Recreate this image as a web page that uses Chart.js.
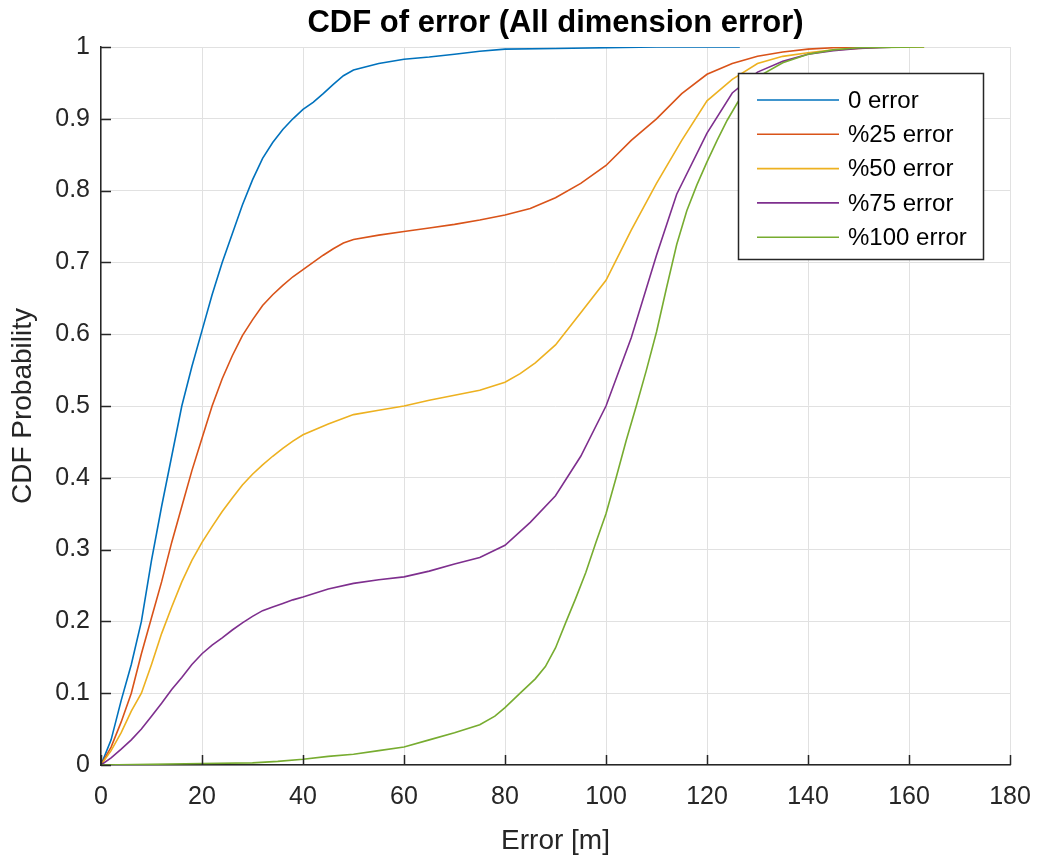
<!DOCTYPE html>
<html>
<head>
<meta charset="utf-8">
<script src="https://cdn.jsdelivr.net/npm/chart.js@4.4.1/dist/chart.umd.min.js"></script>
<style>
  html, body { margin: 0; padding: 0; background: #ffffff; }
  canvas { display: block; }
</style>
</head>
<body>
<canvas id="c" width="1039" height="858"></canvas>
<script>
// ---- Data ----
const seriesNames = ['0 error', '%25 error', '%50 error', '%75 error', '%100 error'];

const x0   = [0, 2, 4, 6, 8, 10, 12, 14, 16, 18, 20, 22, 24, 26, 28, 30, 32, 34, 36, 38, 40, 42, 44, 46, 48, 50, 55, 60, 65, 70, 75, 80, 90, 100, 110, 126.5];
const cdf0 = [0, 0.035, 0.09, 0.14, 0.2, 0.285, 0.36, 0.43, 0.5, 0.555, 0.605, 0.655, 0.7, 0.74, 0.78, 0.815, 0.845, 0.867, 0.885, 0.9, 0.913, 0.923, 0.935, 0.948, 0.96, 0.968, 0.977, 0.983, 0.986, 0.99, 0.994, 0.997, 0.998, 0.999, 1, 1];

const x25   = [0, 2, 4, 6, 8, 10, 12, 14, 16, 18, 20, 22, 24, 26, 28, 30, 32, 34, 36, 38, 40, 42, 44, 46, 48, 50, 55, 60, 65, 70, 75, 80, 85, 90, 95, 100, 105, 110, 115, 120, 125, 130, 135, 140, 145, 153];
const cdf25 = [0, 0.025, 0.06, 0.1, 0.155, 0.205, 0.255, 0.31, 0.36, 0.41, 0.455, 0.5, 0.538, 0.57, 0.598, 0.62, 0.64, 0.655, 0.668, 0.68, 0.69, 0.7, 0.71, 0.719, 0.727, 0.732, 0.738, 0.743, 0.748, 0.753, 0.759, 0.766, 0.775, 0.79, 0.81, 0.835, 0.87, 0.9, 0.935, 0.962, 0.977, 0.987, 0.993, 0.997, 0.999, 1];

const x50   = [0, 2, 4, 6, 8, 10, 12, 14, 16, 18, 20, 22, 24, 26, 28, 30, 32, 34, 36, 38, 40, 45, 50, 55, 60, 65, 70, 75, 80, 83, 86, 90, 95, 100, 105, 110, 115, 120, 125, 130, 135, 140, 145, 150, 155, 163];
const cdf50 = [0, 0.02, 0.045, 0.075, 0.1, 0.14, 0.183, 0.22, 0.255, 0.285, 0.31, 0.332, 0.353, 0.372, 0.39, 0.405, 0.418, 0.43, 0.441, 0.451, 0.46, 0.475, 0.488, 0.494, 0.5, 0.508, 0.515, 0.522, 0.533, 0.545, 0.56, 0.585, 0.63, 0.675, 0.745, 0.81, 0.87, 0.925, 0.955, 0.977, 0.987, 0.992, 0.996, 0.998, 1, 1];

const x75   = [0, 2, 4, 6, 8, 10, 12, 14, 16, 18, 20, 22, 24, 26, 28, 30, 32, 34, 36, 38, 40, 45, 50, 55, 60, 65, 70, 75, 80, 85, 90, 95, 100, 105, 110, 114, 120, 125, 130, 135, 140, 145, 150, 158];
const cdf75 = [0, 0.01, 0.022, 0.035, 0.05, 0.068, 0.086, 0.105, 0.122, 0.14, 0.155, 0.167, 0.177, 0.188, 0.198, 0.207, 0.215, 0.22, 0.225, 0.23, 0.234, 0.245, 0.253, 0.258, 0.262, 0.27, 0.28, 0.289, 0.306, 0.338, 0.375, 0.43, 0.5, 0.595, 0.71, 0.795, 0.88, 0.936, 0.965, 0.98, 0.99, 0.995, 0.998, 1];

const x100   = [0, 10, 20, 30, 35, 40, 45, 50, 55, 60, 65, 70, 75, 78, 80, 83, 86, 88, 90, 92, 94, 96, 98, 100, 102, 104, 106, 108, 110, 112, 114, 116, 118, 120, 122, 124, 126, 128, 130, 135, 140, 145, 150, 163];
const cdf100 = [0, 0.001, 0.002, 0.003, 0.005, 0.008, 0.012, 0.015, 0.02, 0.025, 0.035, 0.045, 0.056, 0.068, 0.08, 0.1, 0.12, 0.137, 0.163, 0.198, 0.232, 0.268, 0.31, 0.35, 0.4, 0.452, 0.5, 0.55, 0.603, 0.665, 0.725, 0.772, 0.808, 0.84, 0.87, 0.898, 0.922, 0.943, 0.958, 0.978, 0.99, 0.996, 0.999, 1];

const xTickValues = [0, 20, 40, 60, 80, 100, 120, 140, 160, 180];
const xTickLabels = ['0', '20', '40', '60', '80', '100', '120', '140', '160', '180'];
const yTickValues = [0, 0.1, 0.2, 0.3, 0.4, 0.5, 0.6, 0.7, 0.8, 0.9, 1];
const yTickLabels = ['0', '0.1', '0.2', '0.3', '0.4', '0.5', '0.6', '0.7', '0.8', '0.9', '1'];

const seriesColors = ['#0072BD', '#D95319', '#EDB120', '#7E2F8E', '#77AC30'];
const allX = [x0, x25, x50, x75, x100];
const allY = [cdf0, cdf25, cdf50, cdf75, cdf100];

// ---- Styling ----
const FONT = '"Liberation Sans", Arial, Helvetica, sans-serif';
const AXIS_COLOR = '#262626';
const GRID_COLOR = '#e1e1e1';

const datasets = seriesNames.map((name, i) => ({
  label: name,
  data: allX[i].map((x, j) => ({ x: x, y: allY[i][j] })),
  borderColor: seriesColors[i],
  backgroundColor: seriesColors[i],
  borderWidth: 1.6,
  pointRadius: 0,
  tension: 0,
  fill: false,
  order: seriesNames.length - i
}));

// Inward tick marks (MATLAB style)
const inwardTicks = {
  id: 'inwardTicks',
  afterDatasetsDraw(chart) {
    const { ctx, chartArea, scales } = chart;
    ctx.save();
    ctx.strokeStyle = AXIS_COLOR;
    ctx.lineWidth = 1.5;
    ctx.beginPath();
    xTickValues.forEach(v => {
      const px = Math.round(scales.x.getPixelForValue(v)) + 0.5;
      ctx.moveTo(px, chartArea.bottom);
      ctx.lineTo(px, chartArea.bottom - 10);
    });
    yTickValues.forEach(v => {
      const py = Math.round(scales.y.getPixelForValue(v)) + 0.5;
      ctx.moveTo(chartArea.left, py);
      ctx.lineTo(chartArea.left + 10, py);
    });
    ctx.stroke();
    ctx.restore();
  }
};

// Legend box inside the axes (top right), MATLAB style
const boxLegend = {
  id: 'boxLegend',
  afterDraw(chart) {
    const { ctx, chartArea } = chart;
    const w = 245, h = 186;
    const right = chartArea.right - 27;
    const left = right - w;
    const top = chartArea.top + 26;
    ctx.save();
    ctx.fillStyle = '#ffffff';
    ctx.fillRect(left, top, w, h);
    ctx.strokeStyle = AXIS_COLOR;
    ctx.lineWidth = 1.5;
    ctx.strokeRect(left + 0.5, top + 0.5, w, h);
    ctx.font = '24px ' + FONT;
    ctx.textBaseline = 'middle';
    ctx.textAlign = 'left';
    chart.data.datasets.forEach((ds, i) => {
      const cy = top + 27 + i * 34.3;
      ctx.strokeStyle = ds.borderColor;
      ctx.lineWidth = 1.6;
      ctx.beginPath();
      ctx.moveTo(left + 19, cy);
      ctx.lineTo(left + 101, cy);
      ctx.stroke();
      ctx.fillStyle = '#000000';
      ctx.fillText(ds.label, left + 110, cy + 1);
    });
    ctx.restore();
  }
};

new Chart(document.getElementById('c'), {
  type: 'line',
  data: { datasets: datasets },
  plugins: [inwardTicks, boxLegend],
  options: {
    responsive: false,
    animation: false,
    devicePixelRatio: 1,
    layout: { padding: { left: 0, right: 29, top: 0, bottom: 0 } },
    plugins: {
      legend: { display: false },
      tooltip: { enabled: false },
      title: {
        display: true,
        fullSize: false,
        text: 'CDF of error (All dimension error)',
        color: '#000000',
        font: { family: FONT, size: 31, weight: 'bold' },
        padding: { top: 5, bottom: 4.8 }
      }
    },
    scales: {
      x: {
        type: 'linear',
        min: 0,
        max: 180,
        afterBuildTicks: s => { s.ticks = xTickValues.map(v => ({ value: v })); },
        afterFit: s => { s.height = 93; s.paddingRight = 0; s.paddingLeft = 0; },
        ticks: {
          autoSkip: false,
          maxRotation: 0,
          padding: 17,
          color: AXIS_COLOR,
          font: { family: FONT, size: 25 },
          callback: v => xTickLabels[xTickValues.indexOf(v)]
        },
        grid: { color: GRID_COLOR, lineWidth: 1, drawTicks: false },
        border: { display: true, color: AXIS_COLOR, width: 1.5 },
        title: {
          display: true,
          text: 'Error [m]',
          color: AXIS_COLOR,
          font: { family: FONT, size: 28 },
          padding: { top: 0, bottom: 0 }
        }
      },
      y: {
        type: 'linear',
        min: 0,
        max: 1,
        afterBuildTicks: s => { s.ticks = yTickValues.map(v => ({ value: v })); },
        afterFit: s => { s.width = 101; },
        ticks: {
          autoSkip: false,
          padding: 11,
          color: AXIS_COLOR,
          font: { family: FONT, size: 25 },
          callback: v => yTickLabels[yTickValues.indexOf(v)]
        },
        grid: { color: GRID_COLOR, lineWidth: 1, drawTicks: false },
        border: { display: true, color: AXIS_COLOR, width: 1.5 },
        title: {
          display: true,
          text: 'CDF Probability',
          color: AXIS_COLOR,
          font: { family: FONT, size: 28 },
          padding: { top: 6, bottom: 0 }
        }
      }
    }
  }
});
</script>
</body>
</html>
